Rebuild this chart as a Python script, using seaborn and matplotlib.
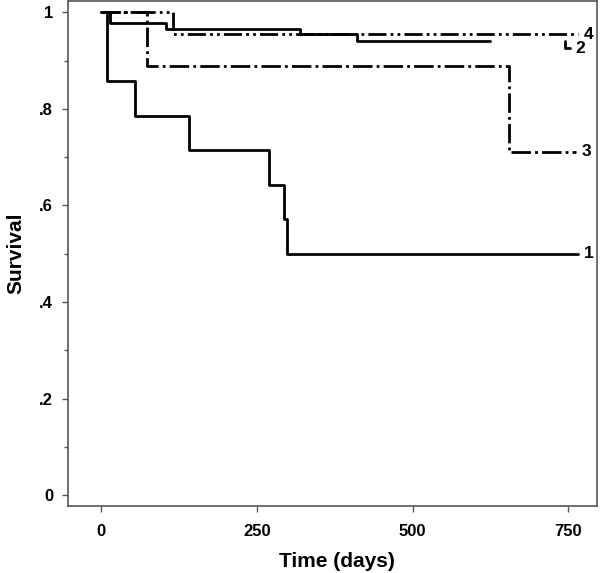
import matplotlib
matplotlib.use("Agg")
import matplotlib.pyplot as plt
import seaborn as sns
import pandas as pd
from matplotlib.ticker import MultipleLocator, FixedLocator

sns.set_theme(style="white")
plt.rcParams['font.family'] = ['Liberation Sans', 'DejaVu Sans']
plt.rcParams['font.weight'] = 'bold'
plt.rcParams['text.color'] = 'black'
plt.rcParams['axes.labelcolor'] = 'black'
plt.rcParams['xtick.labelcolor'] = 'black'
plt.rcParams['ytick.labelcolor'] = 'black'
plt.rcParams['lines.scale_dashes'] = False

# Kaplan-Meier step curves (time in days, survival fraction)
t1 = [0, 9, 55, 141, 269, 293, 298, 766]
s1 = [1.0, 0.857, 0.786, 0.714, 0.643, 0.571, 0.5, 0.5]

t2 = [0, 14, 104, 320, 411, 624]
s2 = [1.0, 0.978, 0.966, 0.954, 0.940, 0.940]
t2_tail = [744, 744, 753]
s2_tail = [0.940, 0.926, 0.926]

t3 = [0, 74, 654, 763]
s3 = [1.0, 0.889, 0.711, 0.711]

t4 = [0, 115, 766]
s4 = [1.0, 0.954, 0.954]

curve_labels = ['1', '2', '3', '4']

solid = '-'
dash_dot = (0, (14, 3, 2, 3))
dash_dot_dot = (0, (13, 3, 2, 3, 2, 3))

fig = plt.figure(figsize=(6.0, 5.73), dpi=100)
ax = fig.add_axes([0.114, 0.117, 0.881, 0.881])

lw = 2.0
curves = [
    (t1, s1, solid),
    (t2, s2, solid),
    (t2_tail, s2_tail, solid),
    (t3, s3, dash_dot),
    (t4, s4, dash_dot_dot),
]
for t, s, ls in curves:
    df = pd.DataFrame({'time': t, 'surv': s})
    sns.lineplot(data=df, x='time', y='surv', ax=ax, color='black',
                 linewidth=lw, linestyle=ls, drawstyle='steps-post',
                 sort=False, estimator=None)

# curve number labels at the right end of each curve
ends = [(t1[-1], s1[-1]), (t2_tail[-1], s2_tail[-1]), (t3[-1], s3[-1]), (t4[-1], s4[-1])]
for lab, (x, y) in zip(curve_labels, ends):
    ax.annotate(lab, xy=(x, y), xytext=(4, 0), textcoords='offset points',
                ha='left', va='center', fontsize=12.5, fontweight='bold')

xmin, xmax = -52.5, 796
ax.set_xlim(xmin, xmax)
ax.set_ylim(-0.022, 1.023)
ax.xaxis.set_major_locator(FixedLocator([0, 250, 500, 750]))
ax.yaxis.set_major_locator(FixedLocator([0, 0.2, 0.4, 0.6, 0.8, 1.0]))
ax.yaxis.set_minor_locator(MultipleLocator(0.1))
ax.set_yticklabels(['0', '.2', '.4', '.6', '.8', '1'])
ax.set_xticklabels(['0', '250', '500', '750'])

ax.tick_params(axis='both', which='major', direction='out', length=4, width=1,
               color='#555555', labelsize=12, pad=7)
ax.tick_params(axis='y', which='minor', direction='out', length=3, width=1,
               color='#555555', left=True)
ax.tick_params(axis='x', which='major', bottom=True, pad=9)
ax.tick_params(axis='y', which='major', left=True)
for lab in ax.get_xticklabels() + ax.get_yticklabels():
    lab.set_fontweight('bold')

for sp in ax.spines.values():
    sp.set_color('#555555')
    sp.set_linewidth(1.2)

ax.set_xlabel('Time (days)', fontsize=15, fontweight='bold')
ax.xaxis.set_label_coords((378 - xmin) / (xmax - xmin), -0.092)
ax.set_ylabel('Survival', fontsize=15, fontweight='bold', labelpad=10)

fig.savefig('out.png', dpi=100)
